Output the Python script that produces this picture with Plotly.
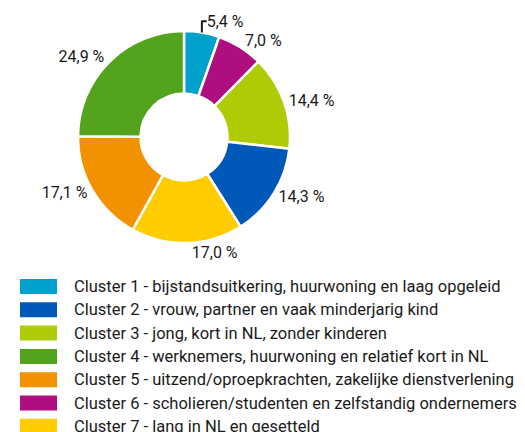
import plotly.graph_objects as go

# Data (slice order as drawn, clockwise from 12 o'clock)
slice_labels = ["Cluster 1", "Cluster 6", "Cluster 3", "Cluster 2", "Cluster 7", "Cluster 5", "Cluster 4"]
slice_values = [5.4, 7.0, 14.4, 14.3, 17.0, 17.1, 24.9]

# Legend (in legend order)
legend_names = [
    "Cluster 1 - bijstandsuitkering, huurwoning en laag opgeleid",
    "Cluster 2 - vrouw, partner en vaak minderjarig kind",
    "Cluster 3 - jong, kort in NL, zonder kinderen",
    "Cluster 4 - werknemers, huurwoning en relatief kort in NL",
    "Cluster 5 - uitzend/oproepkrachten, zakelijke dienstverlening",
    "Cluster 6 - scholieren/studenten en zelfstandig ondernemers",
    "Cluster 7 - lang in NL en gesetteld",
]
legend_keys = ["Cluster 1", "Cluster 2", "Cluster 3", "Cluster 4", "Cluster 5", "Cluster 6", "Cluster 7"]

colors = {
    "Cluster 1": "#00a1cd",
    "Cluster 2": "#0058b8",
    "Cluster 3": "#afcb05",
    "Cluster 4": "#53a31d",
    "Cluster 5": "#f39200",
    "Cluster 6": "#af0e80",
    "Cluster 7": "#ffcc00",
}

# page body has an 8px margin: work in page pixels, convert to figure pixels
OFF = 8
W, H = 525 - OFF, 432 - OFF
FONT = "Roboto, sans-serif"


def px(x):
    return (x - OFF) / W


def py(y):
    return 1 - (y - OFF) / H


fig = go.Figure()

cx, cy, r = 184, 137, 106
fig.add_trace(go.Pie(
    labels=slice_labels,
    values=slice_values,
    sort=False,
    direction="clockwise",
    rotation=0,
    hole=0.41,
    marker=dict(colors=[colors[k] for k in slice_labels], line=dict(color="white", width=2.5)),
    textposition="outside",
    texttemplate="%{value:.1f} %",
    textfont=dict(size=16, color="#1a1a1a", family=FONT),
    showlegend=False,
    domain=dict(x=[px(cx - r), px(cx + r)], y=[py(cy + r), py(cy - r)]),
))

shapes = []
annotations = []
row0, step = 286.5, 23.3
for i, (k, name) in enumerate(zip(legend_keys, legend_names)):
    yc = row0 + i * step
    shapes.append(dict(type="rect", xref="paper", yref="paper",
                       x0=px(20), x1=px(57), y0=py(yc + 7.5), y1=py(yc - 7.5),
                       fillcolor=colors[k], line=dict(width=0)))
    annotations.append(dict(xref="paper", yref="paper", x=px(72), y=py(yc),
                            xanchor="left", yanchor="middle", text=name, showarrow=False,
                            font=dict(size=16.5, color="#1a1a1a", family=FONT)))

fig.update_layout(
    width=W, height=H,
    margin=dict(l=0, r=0, t=0, b=0),
    paper_bgcolor="white",
    plot_bgcolor="white",
    separators=",.",
    shapes=shapes,
    annotations=annotations,
)

fig.write_html("out.html")
